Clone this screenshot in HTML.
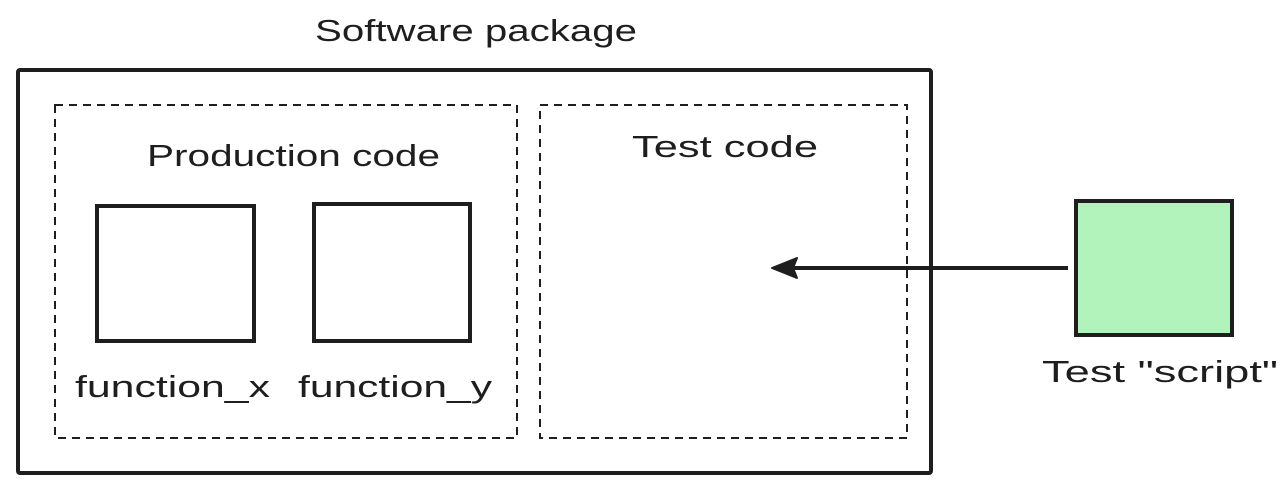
<!DOCTYPE html>
<html><head><style>
body{margin:0;background:#fff;}
svg text{font-family:"Liberation Sans",sans-serif;fill:#1e1e1e;}
</style></head><body>
<svg width="1284" height="494" viewBox="0 0 1284 494" xmlns="http://www.w3.org/2000/svg">
<rect width="1284" height="494" fill="#fff"/>
<text x="315" y="41" font-size="31" textLength="322" lengthAdjust="spacingAndGlyphs">Software package</text>
<rect x="18" y="70" width="913" height="403" fill="none" stroke="#1e1e1e" stroke-width="4" rx="2"/>
<rect x="55" y="105" width="462" height="333" fill="none" stroke="#1e1e1e" stroke-width="2" stroke-dasharray="8 6"/>
<rect x="540" y="105" width="367" height="333" fill="none" stroke="#1e1e1e" stroke-width="2" stroke-dasharray="8 6"/>
<text x="147" y="166" font-size="31" textLength="293" lengthAdjust="spacingAndGlyphs">Production code</text>
<text x="632" y="157" font-size="31" textLength="186" lengthAdjust="spacingAndGlyphs">Test code</text>
<rect x="97" y="206" width="157" height="135" fill="#fff" stroke="#1e1e1e" stroke-width="4"/>
<rect x="314" y="204" width="156" height="137" fill="#fff" stroke="#1e1e1e" stroke-width="4"/>
<text x="75" y="397" font-size="31" textLength="195" lengthAdjust="spacingAndGlyphs">function_x</text>
<text x="298" y="397" font-size="31" textLength="194" lengthAdjust="spacingAndGlyphs">function_y</text>
<rect x="1076" y="201" width="156" height="134" fill="#b2f2bb" stroke="#1e1e1e" stroke-width="4"/>
<text x="1042" y="382" font-size="31" textLength="236" lengthAdjust="spacingAndGlyphs">Test "script"</text>
<line x1="1068" y1="268" x2="776" y2="268" stroke="#1e1e1e" stroke-width="4"/>
<path d="M772 268 L797 258 L793 268 L797 278 Z" fill="#1e1e1e" stroke="#1e1e1e" stroke-width="2" stroke-linejoin="round"/>
</svg>
</body></html>
